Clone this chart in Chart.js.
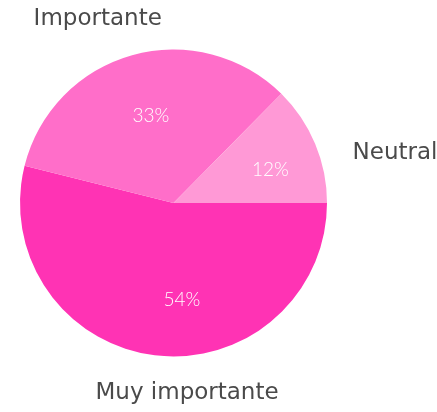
<!DOCTYPE html>
<html>
<head>
<meta charset="utf-8">
<script src="https://cdn.jsdelivr.net/npm/chart.js@4"></script>
<style>
  html, body { margin: 0; padding: 0; background: #fff; }
  #wrap { width: 437px; height: 412px; position: relative; }
</style>
</head>
<body>
<div id="wrap"><canvas id="pieChart"></canvas></div>
<script>
const labels = ['Muy importante', 'Importante', 'Neutral'];
const values = [53.9, 33.5, 12.6];
const percentLabels = ['54%', '33%', '12%'];
const colors = ['#ff33b4', '#ff6ec9', '#ff99d6'];

// small nudges so the texts sit where the original put them
const pctNudge = [[20, 2], [3, 5], [9, 4]];
const labelNudge = [[37, 0], [-24, 1], [2, 24]];
const labelAlign = ['center', 'center', 'left'];

const sliceLabels = {
  id: 'sliceLabels',
  afterDatasetsDraw(chart) {
    const ctx = chart.ctx;
    const meta = chart.getDatasetMeta(0);
    ctx.save();
    ctx.textBaseline = 'middle';
    meta.data.forEach((arc, i) => {
      const mid = (arc.startAngle + arc.endAngle) / 2;
      const r = arc.outerRadius;
      // percentage inside the slice
      ctx.fillStyle = '#ffffff';
      ctx.font = '300 19px Lato';
      ctx.textAlign = 'center';
      ctx.fillText(percentLabels[i],
        arc.x + Math.cos(mid) * r * 0.62 + pctNudge[i][0],
        arc.y + Math.sin(mid) * r * 0.62 + pctNudge[i][1]);
      // category name outside
      ctx.fillStyle = '#4a4a4a';
      ctx.font = '23px "DejaVu Sans"';
      ctx.textAlign = labelAlign[i];
      const d = r * 1.25;
      ctx.fillText(labels[i],
        arc.x + Math.cos(mid) * d + labelNudge[i][0],
        arc.y + Math.sin(mid) * d + labelNudge[i][1]);
    });
    ctx.restore();
  }
};

new Chart(document.getElementById('pieChart').getContext('2d'), {
  type: 'pie',
  data: {
    labels: labels,
    datasets: [{
      data: values,
      backgroundColor: colors,
      borderWidth: 0
    }]
  },
  options: {
    responsive: true,
    maintainAspectRatio: false,
    animation: false,
    rotation: 90,
    layout: { padding: { left: 20, right: 110, top: 49, bottom: 55 } },
    plugins: {
      legend: { display: false },
      tooltip: { enabled: false }
    }
  },
  plugins: [sliceLabels]
});
</script>
</body>
</html>
